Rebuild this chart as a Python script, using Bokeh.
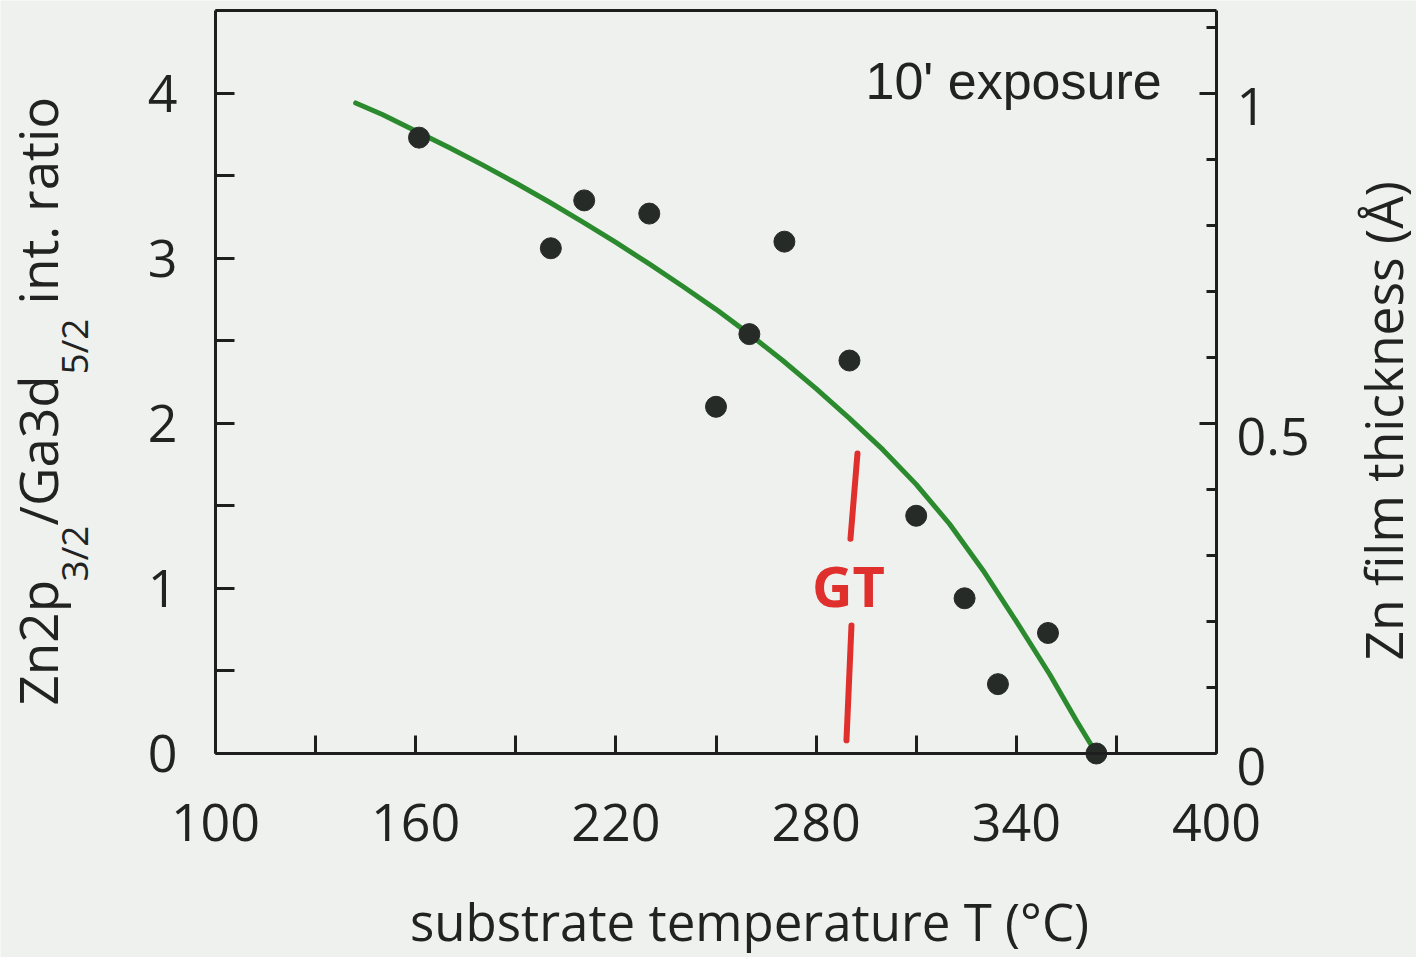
from bokeh.plotting import figure
from bokeh.models import Range1d, LinearAxis, FixedTicker, Label, CustomLabelingPolicy
from bokeh.embed import file_html
from bokeh.resources import INLINE

# ---- data ----
temps = [161, 200.5, 210.5, 230, 250, 260, 270.5, 290, 310, 324.5, 334.5, 349.5, 364]
ratios = [3.73, 3.06, 3.35, 3.27, 2.10, 2.54, 3.10, 2.38, 1.44, 0.94, 0.42, 0.73, 0.0]

fit_T = [142, 150, 160, 170, 180, 190, 200, 210, 220, 230, 240, 250, 260,
         270, 280, 290, 300, 310, 320, 330, 340, 350, 358, 364]
fit_ratio = [3.94, 3.87, 3.77, 3.67, 3.565, 3.455, 3.34, 3.22, 3.095, 2.965,
             2.83, 2.69, 2.54, 2.38, 2.21, 2.03, 1.84, 1.63, 1.39, 1.11, 0.80,
             0.48, 0.20, 0.0]

x_ticks = [100, 160, 220, 280, 340, 400]
x_minor = [130, 190, 250, 310, 370]
y_ticks = [0, 1, 2, 3, 4]
y_minor = [0.5, 1.5, 2.5, 3.5, 4.5]
thick_ticks = [0, 0.5, 1]
thick_minor = [0.1, 0.2, 0.3, 0.4, 0.6, 0.7, 0.8, 0.9, 1.1]

gt_upper_T = [292.4, 290.3]
gt_upper_r = [1.817, 1.30]
gt_lower_T = [290.6, 289.1]
gt_lower_r = [0.775, 0.08]

# ---- layout constants (pixels of the canvas) ----
W, H = 1416, 957
FL, FT, FR, FB = 215, 10, 1216, 753       # plot box edges
SX = (FR - FL) / 300.0                     # px per degree
SY = (FB - FT) / 4.5                       # px per ratio unit


def fx(px):
    return 100 + (px - FL) / SX


def fy(py):
    return (FB - py) / SY


BG = "#eef1ed"
INK = "#222222"
AX = "#1e1e1e"
FONT = "Open Sans"

y0, y1 = fy(H), fy(0)
p = figure(width=W, height=H, x_range=Range1d(fx(0), fx(W)),
           y_range=Range1d(y0, y1),
           output_backend="svg", toolbar_location=None,
           min_border_left=0, min_border_right=0,
           min_border_top=0, min_border_bottom=0)
p.grid.visible = False
p.background_fill_color = BG
p.border_fill_color = BG
p.outline_line_color = None

LBL_SHIFT = 13 / (4 * SY)   # right labels sit a little below their ticks
p.extra_y_ranges = {"thick": Range1d(y0 / 4, y1 / 4),
                    "thick_lbl": Range1d(y0 / 4 + LBL_SHIFT, y1 / 4 + LBL_SHIFT)}

xa = p.xaxis[0]
xa.ticker = FixedTicker(ticks=x_ticks, minor_ticks=x_minor)
xa.fixed_location = 0
xa.bounds = (100, 400)

ya = p.yaxis[0]
ya.ticker = FixedTicker(ticks=y_ticks, minor_ticks=y_minor)
ya.fixed_location = 100
ya.bounds = (0, 4.5)

# right axis: ticks only (labels hidden by policy)
ra = LinearAxis(y_range_name="thick", fixed_location=400, bounds=(0, 1.125),
                ticker=FixedTicker(ticks=thick_ticks, minor_ticks=thick_minor))
ra.major_label_policy = CustomLabelingPolicy(
    code="for (const i of indices) indices.unset(i)")
p.add_layout(ra, "right")

# right axis labels (slightly below their ticks, as in the reference)
ra_lbl = LinearAxis(y_range_name="thick_lbl", fixed_location=400,
                    bounds=(0, 1.125), ticker=FixedTicker(ticks=thick_ticks))
ra_lbl.major_label_overrides = {0: "0", 0.5: "0.5", 1: "1"}
ra_lbl.axis_line_color = None
ra_lbl.major_tick_line_color = None
ra_lbl.minor_tick_line_color = None
p.add_layout(ra_lbl, "right")

ta = LinearAxis(fixed_location=4.5, bounds=(100, 400), ticker=FixedTicker(ticks=[]))
p.add_layout(ta, "above")

for ax, tin, mtin, stand in ((xa, 18, 18, 50), (ya, 19, 19, 38),
                             (ra, 17, 10, 20), (ra_lbl, 0, 0, 20), (ta, 0, 0, 0)):
    if ax is not ra_lbl:
        ax.axis_line_color = AX
        ax.major_tick_line_color = AX
        ax.minor_tick_line_color = AX
    ax.axis_line_width = 3
    ax.major_tick_line_width = 3
    ax.minor_tick_line_width = 3
    ax.major_tick_in = tin
    ax.major_tick_out = 0
    ax.minor_tick_in = mtin
    ax.minor_tick_out = 0
    ax.major_label_text_font = FONT
    ax.major_label_text_font_size = "52px"
    ax.major_label_text_color = INK
    ax.major_label_standoff = stand
    ax.axis_label = None

# data
p.line(fit_T, fit_ratio, line_color="#2b8a2e", line_width=5, line_cap="round",
       line_join="round")
p.scatter(temps, ratios, size=21, marker="circle", fill_color="#262b28",
          line_color="#262b28")

# GT annotation (red hand marks)
p.line(gt_upper_T, gt_upper_r, line_color="#e0302e", line_width=6, line_cap="round")
p.line(gt_lower_T, gt_lower_r, line_color="#e0302e", line_width=6, line_cap="round")
p.add_layout(Label(x=fx(848), y=fy(584), text="GT", text_font=FONT,
                   text_font_style="bold", text_font_size="56px",
                   text_color="#e0302e", text_align="center",
                   text_baseline="middle"))

# inner label
p.add_layout(Label(x=fx(865), y=fy(80), text="10' exposure",
                   text_font="Liberation Sans", text_font_size="52px",
                   text_color=INK, text_align="left",
                   text_baseline="middle"))

# bottom axis title
p.add_layout(Label(x=fx(749), y=fy(920), text="substrate temperature T (°C)",
                   text_font=FONT, text_font_size="51px", text_color=INK,
                   text_align="center", text_baseline="middle"))

# right axis title
p.add_layout(Label(x=fx(1382), y=fy(660), text="Zn film thickness (Å)",
                   text_font=FONT, text_font_size="51.5px", text_color=INK,
                   angle=90, angle_units="deg", text_align="left",
                   text_baseline="middle"))

# left axis title, built from pieces (subscripts)
left_parts = [
    ("Zn2p", 37, 705, "53px"),
    ("3/2", 73, 581, "37px"),
    ("/Ga3d", 37, 525, "53px"),
    ("5/2", 73, 374, "37px"),
    ("int. ratio", 37, 304, "53px"),
]
for txt, bx, sy, fs in left_parts:
    p.add_layout(Label(x=fx(bx), y=fy(sy), text=txt, text_font=FONT,
                       text_font_size=fs, text_color=INK, angle=90,
                       angle_units="deg", text_align="left",
                       text_baseline="middle"))

open("out.html", "w").write(file_html(p, INLINE))
